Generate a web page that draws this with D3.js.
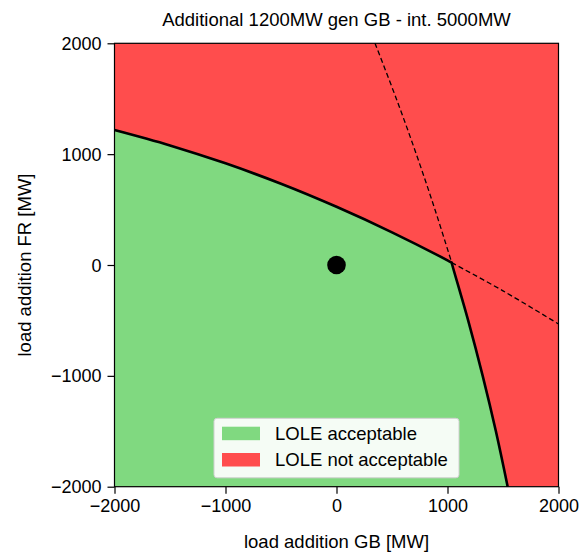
<!DOCTYPE html>
<html>
<head>
<meta charset="utf-8">
<script src="https://cdn.jsdelivr.net/npm/d3@7"></script>
<style>
  body { margin: 0; background: #fff; }
  svg { display: block; font-family: "Liberation Sans", Arial, Helvetica, sans-serif; }
</style>
</head>
<body>
<svg id="chart" width="582" height="556"></svg>
<script>
// ---- data ----
const titleText = "Additional 1200MW gen GB - int. 5000MW";
const xLabel = "load addition GB [MW]";
const yLabel = "load addition FR [MW]";
const xTicks = [-2000, -1000, 0, 1000, 2000];
const yTicks = [-2000, -1000, 0, 1000, 2000];
// boundary curve 1 (FR limit as a function of GB)
const upperX = [-2000, -1500, -1000, -500, 0, 500, 1000, 1038, 1500, 2000];
const upperY = [1218, 1079, 917, 733, 525, 295, 42, 21, -233, -532];
const upperKink = 7;
// boundary curve 2 (GB limit as a function of FR)
const lowerY = [2000, 1500, 1000, 500, 21, 0, -500, -1000, -1500, -2000];
const lowerX = [347, 539, 719, 887, 1038, 1043, 1186, 1317, 1436, 1542];
const lowerKink = 4;
const basePoint = [0, 0];
const legendLabels = ["LOLE acceptable", "LOLE not acceptable"];
const legendColors = ["#80d980", "#ff4d4d"];

// ---- layout ----
const svg = d3.select("#chart");
const L = 114.5, R = 558.5, T = 43.3, B = 486.7;
const x = d3.scaleLinear().domain([-2000, 2000]).range([L, R]);
const y = d3.scaleLinear().domain([-2000, 2000]).range([B, T]);

const up = upperX.map((v, i) => [v, upperY[i]]);
const lo = lowerX.map((v, i) => [v, lowerY[i]]);
const line = d3.line().x(d => x(d[0])).y(d => y(d[1])).curve(d3.curveCatmullRom.alpha(0.5));

// red background
svg.append("rect").attr("x", L).attr("y", T).attr("width", R - L).attr("height", B - T)
  .attr("fill", legendColors[1]);

// green acceptable region
const upSolid = up.slice(0, upperKink + 1);
const loSolid = lo.slice(lowerKink);
const p1 = line(upSolid);
const p2 = line(loSolid).replace(/^M/, "L");
const greenPath = p1 + p2 + "L" + x(-2000) + "," + y(-2000) + "Z";
svg.append("path").attr("d", greenPath).attr("fill", legendColors[0]);

// dashed extensions
svg.append("path").attr("d", line(up.slice(upperKink))).attr("fill", "none")
  .attr("stroke", "#000").attr("stroke-width", 1.3).attr("stroke-dasharray", "5,3");
svg.append("path").attr("d", line(lo.slice(0, lowerKink + 1))).attr("fill", "none")
  .attr("stroke", "#000").attr("stroke-width", 1.3).attr("stroke-dasharray", "5,3");

// solid boundary
svg.append("path").attr("d", p1 + p2).attr("fill", "none")
  .attr("stroke", "#000").attr("stroke-width", 2.6).attr("stroke-linejoin", "miter");

// base point
svg.append("circle").attr("cx", x(basePoint[0])).attr("cy", y(basePoint[1])).attr("r", 9.3).attr("fill", "#000");

// frame
svg.append("rect").attr("x", L).attr("y", T).attr("width", R - L).attr("height", B - T)
  .attr("fill", "none").attr("stroke", "#000").attr("stroke-width", 1.2);

// axes
const fs = 18;
const xAxis = svg.append("g").attr("transform", `translate(0,${B})`)
  .call(d3.axisBottom(x).tickValues(xTicks).tickSize(7).tickPadding(6).tickFormat(d3.format("d")));
const yAxis = svg.append("g").attr("transform", `translate(${L},0)`)
  .call(d3.axisLeft(y).tickValues(yTicks).tickSize(7).tickPadding(6).tickFormat(d3.format("d")));
[xAxis, yAxis].forEach(g => {
  g.select(".domain").remove();
  g.selectAll(".tick line").attr("stroke", "#000").attr("stroke-width", 1.2);
  g.selectAll(".tick text").attr("font-size", fs).attr("fill", "#000")
    .attr("font-family", '"Liberation Sans", Arial, sans-serif');
});
xAxis.selectAll(".tick text").attr("dy", "0.71em");
yAxis.selectAll(".tick text").attr("dy", "0.34em");

// labels
svg.append("text").attr("x", (L + R) / 2).attr("y", 548).attr("text-anchor", "middle")
  .attr("font-size", 18.5).text(xLabel);
svg.append("text").attr("transform", `translate(31,${(T + B) / 2}) rotate(-90)`).attr("text-anchor", "middle")
  .attr("font-size", 18.5).text(yLabel);
svg.append("text").attr("x", (L + R) / 2).attr("y", 25.5).attr("text-anchor", "middle")
  .attr("font-size", 18.5).text(titleText);

// legend
const lg = svg.append("g");
lg.append("rect").attr("x", 214).attr("y", 418.3).attr("width", 245).attr("height", 59.5)
  .attr("rx", 3).attr("fill", "#fff").attr("fill-opacity", 0.92).attr("stroke", "#d0d0d0").attr("stroke-width", 1);
legendLabels.forEach((lab, i) => {
  const yy = 426.7 + i * 26.3;
  lg.append("rect").attr("x", 222).attr("y", yy).attr("width", 38).attr("height", 13.5).attr("fill", legendColors[i]);
  lg.append("text").attr("x", 275).attr("y", yy + 13.4).attr("font-size", 18.5).attr("fill", "#000").text(lab);
});
</script>
</body>
</html>
